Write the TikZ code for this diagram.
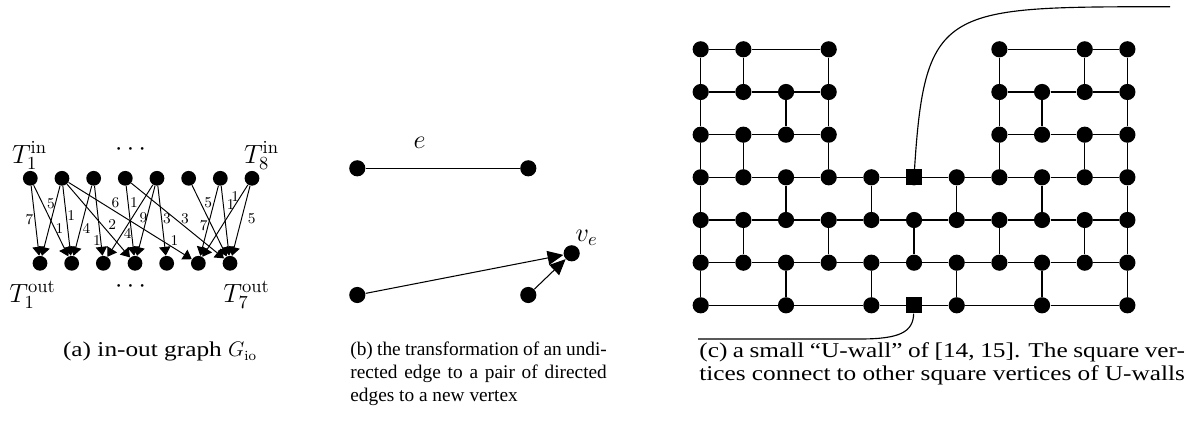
\RequirePackage{fix-cm}
\documentclass[tikz,border=0pt]{standalone}
\usepackage{fontspec}
\usetikzlibrary{arrows.meta, positioning, calc}
\newfontfamily\capfont{Liberation Serif}
\newfontfamily\capwidefont[FakeStretch=1.2]{Liberation Serif}

\begin{document}
\begin{tikzpicture}[
    x=0.02cm, y=-0.02cm,
    >={Triangle[length=5pt, width=6.5pt]},
    vtx/.style={circle, fill, inner sep=0pt, minimum size=8.4pt},
    wvtx/.style={circle, fill, inner sep=0pt, minimum size=9.2pt},
    svtx/.style={rectangle, fill, inner sep=0pt, minimum size=9.2pt},
    arr/.style={->, line width=0.55pt},
    barr/.style={-{Triangle[length=9pt, width=8pt]}, line width=0.6pt},
    wline/.style={line width=0.65pt},
    elbl/.style={font=\fontsize{8.5}{9}\selectfont, inner sep=0pt},
    mlbl/.style={font=\fontsize{15}{17}\selectfont, inner sep=0pt},
    caption/.style={inner sep=0pt, anchor=north west, align=justify},
]
\useasboundingbox (0,0) rectangle (1201,438);

% ===== (a) in-out graph =====
\foreach \i in {1,...,8}
    \node[vtx] (t\i) at ({30.3+31.67*(\i-1)},178.3) {};
\foreach \j in {1,...,7}
    \node[vtx] (b\j) at ({40+31.67*(\j-1)},263.3) {};

\node[mlbl] (tin1) at (29.5,155.5) {$T_1^{\mathrm{in}}$};
\node[mlbl] (tin8) at (261.5,155.5) {$T_8^{\mathrm{in}}$};
\node[mlbl] (dotsin) at (130.5,150) {$\cdots$};
\node[mlbl] (tout1) at (32.5,295) {$T_1^{\mathrm{out}}$};
\node[mlbl] (tout7) at (246.5,295) {$T_7^{\mathrm{out}}$};
\node[mlbl] (dotsout) at (130.5,287) {$\cdots$};

\draw[arr] (t1) -- (b1) node[elbl, pos=0.48, xshift=-3.2pt] {7};
\draw[arr] (t1) -- (b2) node[elbl, pos=0.61, xshift=2.6pt] {1};
\draw[arr] (t2) -- (b1) node[elbl, pos=0.26, xshift=-2.5pt] {5};
\draw[arr] (t2) -- (b2) node[elbl, pos=0.43, xshift=2.8pt] {1};
\draw[arr] (t2) -- (b4) node[elbl, pos=0.55, xshift=6pt] {2};
\draw[arr] (t2) -- (b6) node[elbl, pos=0.38, yshift=5pt] {6}
                       node[elbl, pos=0.86, yshift=4.5pt] {1};
\draw[arr] (t3) -- (b2) node[elbl, pos=0.61, xshift=3.3pt] {4};
\draw[arr] (t3) -- (b3) node[elbl, pos=0.79, xshift=-2.2pt] {1};
\draw[arr] (t4) -- (b4) node[elbl, pos=0.24, xshift=3.3pt] {1};
\draw[arr] (t4) -- (b7) node[elbl, pos=0.58, yshift=4.6pt] {3};
\draw[arr] (t5) -- (b3) node[elbl, pos=0.68, xshift=3.2pt] {4};
\draw[arr] (t5) -- (b4) node[elbl, pos=0.45, xshift=-2pt] {9};
\draw[arr] (t5) -- (b5) node[elbl, pos=0.47, xshift=3pt] {3};
\draw[arr] (t6) -- (b7) node[elbl, pos=0.24, xshift=4.5pt] {5};
\draw[arr] (t7) -- (b6) node[elbl, pos=0.57, xshift=-2.5pt] {7};
\draw[arr] (t7) -- (b7) node[elbl, pos=0.26, xshift=4.2pt] {1};
\draw[arr] (t8) -- (b6) node[elbl, pos=0.16, xshift=-3pt] {1};
\draw[arr] (t8) -- (b7) node[elbl, pos=0.47, xshift=5.8pt] {5};

% ===== (b) edge transformation =====
\node[wvtx] (u) at (357.3,168.3) {};
\node[wvtx] (w) at (528.3,168.3) {};
\draw[wline] (u) -- (w) node[mlbl, pos=0.35, above=11pt] {$e$};

\node[wvtx] (p) at (357.3,295) {};
\node[wvtx] (q) at (528.3,295) {};
\node[wvtx, label={[mlbl]65:$v_e$}] (ve) at (571.7,253.3) {};
\draw[barr] (p) -- (ve);
\draw[barr] (q) -- (ve);

% ===== (c) U-wall =====
\foreach \c in {0,1,3,7,9,10}
    \node[wvtx] (w0-\c) at ({700.7+42.67*\c},49.3) {};
\foreach \r/\y in {1/92,2/134.7}
    \foreach \c in {0,1,2,3,7,8,9,10}
        \node[wvtx] (w\r-\c) at ({700.7+42.67*\c},\y) {};
\foreach \r/\y in {3/177.3,4/220,5/262.7}
    \foreach \c in {0,...,10}
        \node[wvtx] (w\r-\c) at ({700.7+42.67*\c},\y) {};
\foreach \c in {0,2,4,6,8,10}
    \node[wvtx] (w6-\c) at ({700.7+42.67*\c},305.3) {};
% square vertices
\node[svtx] (w3-5) at (914,177.3) {};
\node[svtx] (w6-5) at (914,305.3) {};

% rows
\draw[wline] (w0-0) -- (w0-1) -- (w0-3);
\draw[wline] (w0-7) -- (w0-9) -- (w0-10);
\draw[wline] (w1-0) -- (w1-1) -- (w1-2) -- (w1-3);
\draw[wline] (w1-7) -- (w1-8) -- (w1-9) -- (w1-10);
\draw[wline] (w2-0) -- (w2-1) -- (w2-2) -- (w2-3);
\draw[wline] (w2-7) -- (w2-8) -- (w2-9) -- (w2-10);
\foreach \r in {3,4,5}
    \draw[wline] (w\r-0) -- (w\r-1) -- (w\r-2) -- (w\r-3) -- (w\r-4) -- (w\r-5)
        -- (w\r-6) -- (w\r-7) -- (w\r-8) -- (w\r-9) -- (w\r-10);
\draw[wline] (w6-0) -- (w6-2) -- (w6-4) -- (w6-5) -- (w6-6) -- (w6-8) -- (w6-10);

% columns
\foreach \c in {0,1,3,7,9,10} \draw[wline] (w0-\c) -- (w1-\c);
\foreach \c in {0,2,3,7,8,10} \draw[wline] (w1-\c) -- (w2-\c);
\foreach \c in {0,1,3,7,9,10} \draw[wline] (w2-\c) -- (w3-\c);
\foreach \c in {0,2,4,6,8,10} \draw[wline] (w3-\c) -- (w4-\c);
\foreach \c in {0,1,3,5,7,9,10} \draw[wline] (w4-\c) -- (w5-\c);
\foreach \c in {0,2,4,6,8,10} \draw[wline] (w5-\c) -- (w6-\c);

% links to other U-walls
\coordinate (topend) at (1170,6.7);
\coordinate (botbend) at (860,339);
\coordinate (botend) at (698,339);
\draw[wline] (w3-5) .. controls (925,5) and (945,7) .. (topend);
\draw[wline] (w6-5) .. controls (913,332) and (900,339) .. (botbend) -- (botend);

% ===== captions =====
\node[caption, anchor=north, align=center, font=\capwidefont\fontsize{12}{13}\selectfont]
    (capa) at (160,342) {(a) in-out graph $G_{\mathrm{io}}$};
\node[caption, text width=146pt, font=\capfont\fontsize{11}{13}\selectfont] (capb) at (350,342)
    {(b) the transformation of an undi-\linebreak rected edge to a pair of directed\linebreak edges to a new vertex};
\node[caption, text width=276.4pt, font=\capwidefont\fontsize{12}{13.2}\selectfont] (capc) at (699,342)
    {(c) a small “U-wall” of [14, 15]. The square ver-\linebreak tices connect to other square vertices of U-walls};

\end{tikzpicture}
\end{document}
